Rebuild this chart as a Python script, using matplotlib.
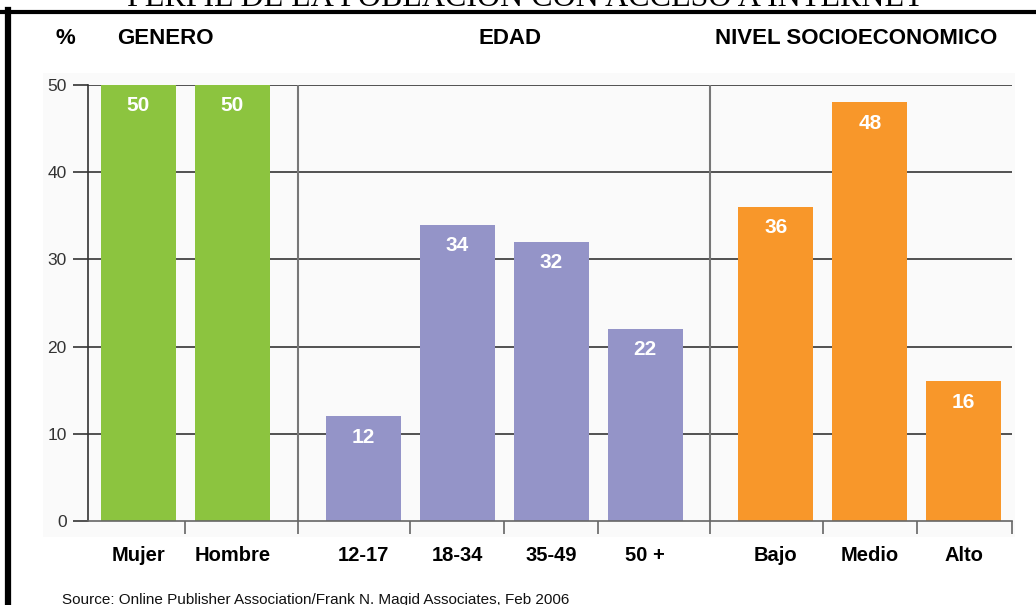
import matplotlib.pyplot as plt
from matplotlib.lines import Line2D
from matplotlib.patches import Rectangle

# internet access profile by group
categorias = ['Mujer', 'Hombre', '12-17', '18-34', '35-49', '50 +', 'Bajo', 'Medio', 'Alto']
valores = [50, 50, 12, 34, 32, 22, 36, 48, 16]
grupos = [0, 0, 1, 1, 1, 1, 2, 2, 2]
encabezados = ['GENERO', 'EDAD', 'NIVEL SOCIOECONOMICO']
colores = ['#8cc43f', '#9494c8', '#f8972a']
yticks = [0, 10, 20, 30, 40, 50]

titulo = 'PERFIL DE LA POBLACION CON ACCESO A INTERNET'
fuente = 'Source: Online Publisher Association/Frank N. Magid Associates, Feb 2006'

plt.rcParams['font.family'] = ['Liberation Sans', 'DejaVu Sans']

# bar positions: one slot per bar, extra space between groups
hueco = 0.39
pos = [i + hueco * g for i, g in enumerate(grupos)]

fig = plt.figure(figsize=(10.36, 6.05), dpi=100)

# faint panel behind the chart
fig.patches.append(Rectangle((43 / 1036, 1 - 537 / 605), 972 / 1036, 464 / 605,
                             transform=fig.transFigure, facecolor='#fafafa',
                             edgecolor='none', zorder=-5))

ax = fig.add_axes([87.7 / 1036, 1 - 521 / 605, 924 / 1036, 436 / 605])
ax.set_facecolor('none')
ax.set_zorder(2)

for y in yticks[1:]:
    ax.axhline(y, color='#444444', lw=1.3, zorder=1)

# separators between groups
for i in range(1, len(pos)):
    if grupos[i] != grupos[i - 1]:
        x = (pos[i] + pos[i - 1]) / 2
        ax.axvline(x, color='#777777', lw=1.5, zorder=1)

barras = ax.bar(pos, valores, width=0.8,
                color=[colores[g] for g in grupos], zorder=2)

for b, v in zip(barras, valores):
    ax.annotate(str(v), (b.get_x() + b.get_width() / 2, v),
                xytext=(0, -15), textcoords='offset points',
                ha='center', va='center', color='white',
                fontsize=15, fontweight='bold', zorder=3)

ax.set_xlim(pos[0] - 0.54, pos[-1] + 0.51)
ax.set_ylim(0, 50)

ax.set_yticks(yticks)
ax.set_yticklabels([str(t) for t in yticks], fontsize=12.5, color='#333333')
ax.tick_params(axis='y', length=11, width=1.2, color='#333333', pad=4)

ax.set_xticks(pos)
ax.set_xticklabels(categorias, fontsize=14.5, fontweight='bold')
ax.tick_params(axis='x', which='major', length=0, pad=18)

# small ticks at bar boundaries
limites = [(pos[i] + pos[i + 1]) / 2 for i in range(len(pos) - 1)] + [pos[-1] + 0.51]
ax.set_xticks(limites, minor=True)
ax.tick_params(axis='x', which='minor', length=9, width=1.2, color='#666666')

for s in ['top', 'right']:
    ax.spines[s].set_visible(False)
ax.spines['left'].set_color('#333333')
ax.spines['left'].set_linewidth(1.2)
ax.spines['bottom'].set_color('#666666')
ax.spines['bottom'].set_linewidth(1.2)
ax.spines['bottom'].set_zorder(3)

# group headers
hdr = dict(fontsize=16, fontweight='bold', va='center')
fig.text(55 / 1036, 1 - 38 / 605, '%', **hdr)
fig.text(117 / 1036, 1 - 38 / 605, encabezados[0], **hdr)
fig.text(510 / 1036, 1 - 38 / 605, encabezados[1], ha='center', **hdr)
fig.text(997 / 1036, 1 - 38 / 605, encabezados[2], ha='right', **hdr)

# title sits partly above the page edge
fig.text(525 / 1036, 1 - 6 / 605, titulo, ha='center', va='baseline',
         fontsize=23, family='Liberation Serif')

fig.text(62 / 1036, 1 - 604 / 605, fuente, ha='left', va='baseline',
         fontsize=11, color='#111111')

# frame lines on top and left
fig.lines.append(Line2D([0, 1], [1 - 11.5 / 605] * 2, transform=fig.transFigure,
                        color='black', lw=3))
fig.lines.append(Line2D([8 / 1036] * 2, [0, 1 - 10 / 605], transform=fig.transFigure,
                        color='black', lw=4.5))

fig.savefig('out.png', dpi=100)
